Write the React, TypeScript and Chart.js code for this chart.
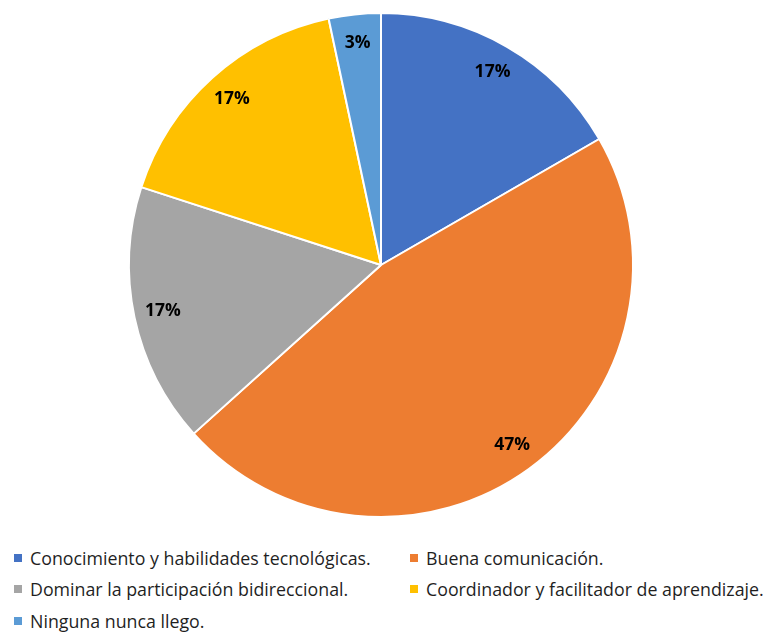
import React, { useEffect, useRef } from "react";
import { Chart, registerables } from "chart.js";

Chart.register(...registerables);

const categories = [
  "Conocimiento y habilidades tecnológicas.",
  "Buena comunicación.",
  "Dominar la participación bidireccional.",
  "Coordinador y facilitador de aprendizaje.",
  "Ninguna nunca llego.",
];
const values = [5, 14, 5, 5, 1];
const percentLabels = ["17%", "47%", "17%", "17%", "3%"];
const colors = ["#4472C4", "#ED7D31", "#A5A5A5", "#FFC000", "#5B9BD5"];

const labelPlugin = {
  id: "sliceLabels",
  afterDatasetsDraw(chart: any) {
    const { ctx } = chart;
    const meta = chart.getDatasetMeta(0);
    ctx.save();
    ctx.font = "bold 17.5px 'Open Sans', sans-serif";
    ctx.fillStyle = "#000000";
    ctx.textAlign = "center";
    ctx.textBaseline = "middle";
    meta.data.forEach((arc: any, i: number) => {
      const mid = (arc.startAngle + arc.endAngle) / 2;
      const r = arc.outerRadius * 0.885;
      const x = arc.x + Math.cos(mid) * r;
      const y = arc.y + Math.sin(mid) * r;
      ctx.fillText(percentLabels[i], x, y);
    });
    ctx.restore();
  },
};

export default function App() {
  const ref = useRef<HTMLCanvasElement>(null);
  useEffect(() => {
    if (!ref.current) return;
    const chart = new Chart(ref.current, {
      type: "pie",
      data: {
        labels: categories,
        datasets: [
          {
            data: values,
            backgroundColor: colors,
            borderColor: "#ffffff",
            borderWidth: 2,
          },
        ],
      },
      options: {
        animation: false,
        responsive: false,
        maintainAspectRatio: false,
        layout: { padding: { top: 12, bottom: 12, left: 128, right: 136 } },
        plugins: {
          legend: { display: false },
          tooltip: { enabled: false },
        },
      },
      plugins: [labelPlugin],
    });
    return () => chart.destroy();
  }, []);

  const legendFont = "'Open Sans', sans-serif";
  const itemPos = [
    { left: 14, top: 558 },
    { left: 410, top: 558 },
    { left: 14, top: 589 },
    { left: 410, top: 589 },
    { left: 14, top: 621 },
  ];

  return (
    <div style={{ position: "fixed", left: 0, top: 0, width: 770, height: 635, background: "#ffffff", overflow: "hidden" }}>
      <canvas ref={ref} width={770} height={530} style={{ position: "absolute", left: 0, top: 0 }} />
      {categories.map((c, i) => (
        <div
          key={c}
          style={{
            position: "absolute",
            left: itemPos[i].left,
            top: itemPos[i].top - 12,
            height: 24,
            display: "flex",
            alignItems: "center",
            fontFamily: legendFont,
            fontSize: 17.8,
            color: "#1f1f1f",
            whiteSpace: "nowrap",
          }}
        >
          <span style={{ display: "inline-block", width: 8, height: 8, background: colors[i], marginRight: 8 }} />
          <span>{c}</span>
        </div>
      ))}
    </div>
  );
}
